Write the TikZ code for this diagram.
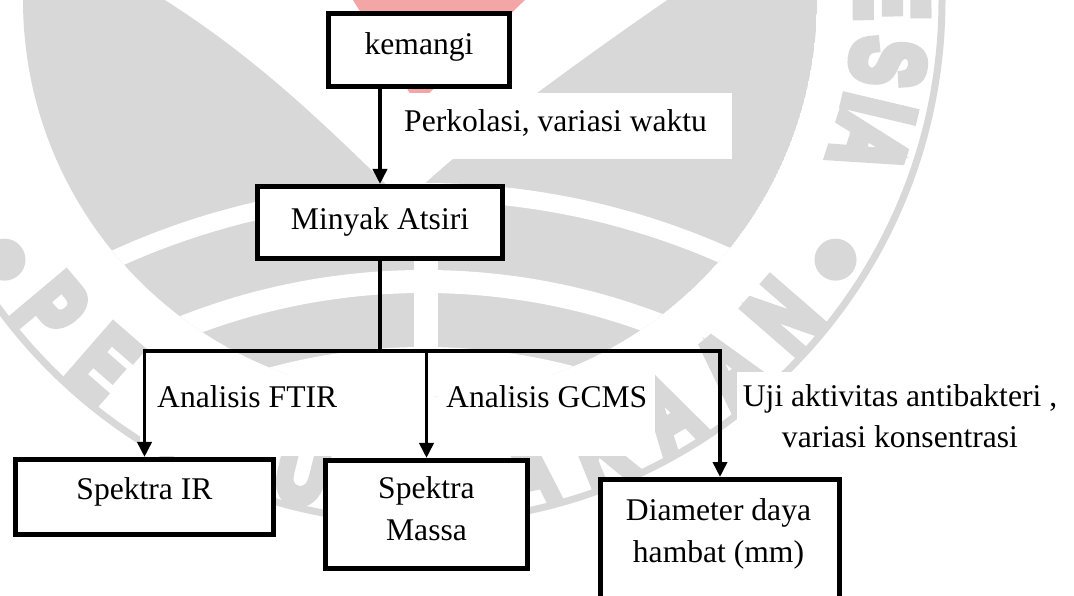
\documentclass[tikz,border=0pt]{standalone}
\usepackage{fontspec}
\usepackage{graphicx}
\setmainfont{Liberation Serif}
\newfontfamily\wmfont[FakeBold=10]{Liberation Sans Bold}
\usetikzlibrary{arrows.meta}
\definecolor{wmgray}{RGB}{216,216,216}
\definecolor{wmred}{RGB}{244,166,166}
\begin{document}
\begin{tikzpicture}[x=1pt,y=1pt,
  box/.style={draw, line width=5.2pt, fill=white, inner sep=0pt},
  conn/.style={line width=3.6pt},
  arr/.style={conn, -{Triangle[width=14pt,length=15pt]}},
  txt/.style={font=\fontsize{31.6}{42}\selectfont, inner sep=0pt},
  wmletter/.style={text=wmgray, font=\wmfont\fontsize{100}{100}\selectfont, inner sep=0pt}
]
\useasboundingbox (0,0) rectangle (1074,595);
\clip (0,0) rectangle (1074,595);

% ---------- watermark ----------
\coordinate (O) at (420,595);
\coordinate (A) at (424,-340);
\begin{scope}
  \clip (O) circle (397);
  \fill[wmgray] (O) circle (397);
  \fill[white] (165,620) -- (165,595) .. controls (260,535) and (330,465) .. (390,407)
     -- (420,407) .. controls (470,455) and (580,535) .. (667,595) -- (667,620) -- cycle;
  \fill[wmred] (350,600) -- (530,600) -- (417,490) -- cycle;
  \draw[white, line width=18pt] (A) circle (743);
  \draw[white, line width=23pt] (A) circle (653.5);
  \fill[white] (A) circle (588);
  \fill[white] (414,245) rectangle (438,400);
\end{scope}
\draw[wmgray, line width=7pt] (O) circle (522);
\fill[wmgray] ([shift={(-32:490)}]O) circle (21);
\fill[wmgray] ([shift={(-148:490)}]O) circle (21);
\foreach \l/\a/\r in {E/0.5/-89.5, S/-7.6/-97.6, I/-13.3/-103.3, A/-17.9/-107.9}
  \node[wmletter, rotate=\r] at ([shift={(\a:472)}]O) {\scalebox{0.7}[1]{\l}};
\foreach \l/\a/\r in {P/-140/-50, E/-131/-41, U/-104/-14,
    A/-77/13, K/-68/22, A/-59/31, A/-50/40, N/-41/49}
  \node[wmletter, rotate=\r] at ([shift={(\a:482)}]O) {\scalebox{0.7}[1]{\l}};

% ---------- labels ----------
\node[txt, fill=white, anchor=west, inner xsep=8pt,
      minimum height=66pt, text height=22pt, text depth=10.6pt] (lp) at (396,469)
      {\makebox[320pt][l]{Perkolasi, variasi waktu}};
\node[txt, fill=white, anchor=base west, inner xsep=17pt,
      text height=33pt, text depth=48pt] (lf) at (140,187)
      {\makebox[246pt][l]{Analisis FTIR}};
\node[txt, fill=white, anchor=base west, inner xsep=8pt,
      text height=33pt, text depth=48pt] (lg) at (438,187) {Analisis GCMS};
\node[txt, font=\fontsize{31.6}{41}\selectfont, fill=white, align=center, anchor=north,
      inner xsep=6pt, inner ysep=12.4pt] (lu) at (900,223)
      {Uji aktivitas antibakteri ,\\variasi konsentrasi};

% ---------- boxes ----------
\node[box, txt, minimum width=180.8pt, minimum height=72.8pt, text height=22pt, text depth=12pt]
  (kem) at (419,545) {kemangi};
\node[box, txt, minimum width=244.8pt, minimum height=71.8pt, text height=22pt, text depth=8.4pt]
  (min) at (380,372.5) {Minyak Atsiri};
\node[box, txt, minimum width=257.8pt, minimum height=74.8pt, text height=22pt, text depth=18pt]
  (ir) at (144.5,98) {Spektra IR};
\node[box, minimum width=201.8pt, minimum height=107.8pt] (ms) at (426.5,80.5) {};
\node[txt, align=center, anchor=north] (mst) at (426.5,118.3) {Spektra\\Massa};
\node[box, minimum width=238.8pt, minimum height=152.8pt] (dm) at (720,39) {};
\node[txt, align=center, anchor=north] (dmt) at (718.5,96.6) {Diameter daya\\hambat (mm)};

% ---------- connectors ----------
\coordinate (busy) at (0,244);
\coordinate (bus) at (min.south |- busy);
\draw[arr] (kem.south -| min.north) -- (min.north);
\draw[conn] (min.south) -- (bus);
\draw[arr] (bus) -| (ir.north);
\draw[arr] (bus) -| (dm.north);
\draw[arr] (ms.north |- bus) -- (ms.north);
\end{tikzpicture}
\end{document}
